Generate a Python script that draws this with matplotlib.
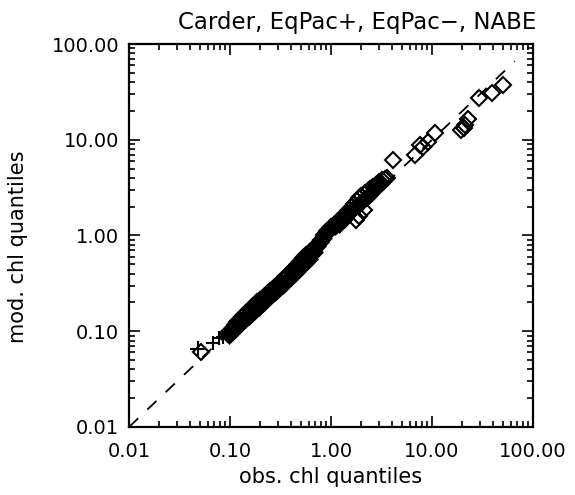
"""Q-Q plot of modelled vs observed chlorophyll quantiles."""

import matplotlib
matplotlib.use('Agg')
import matplotlib.pyplot as plt
from matplotlib.ticker import FixedLocator, LogLocator, NullFormatter, FuncFormatter

TITLE = 'Carder, EqPac+, EqPac\u2212, NABE'

# crosses (low-chl quantiles)
plus_obs = [0.048, 0.068, 0.077, 0.086, 0.092, 0.097, 0.102, 0.108, 0.114, 0.12,
            0.127, 0.134, 0.142, 0.15, 0.158, 0.167, 0.176, 0.186, 0.197, 0.21,
            0.224, 0.24, 0.256, 0.272, 0.29, 0.31, 0.33, 0.355, 0.38, 0.41,
            0.44, 0.47, 0.5, 0.54, 0.58, 0.63, 0.68, 0.74, 0.8, 0.87,
            0.95, 1.02, 1.1, 1.18, 1.26]
plus_mod = [0.066, 0.075, 0.084, 0.088, 0.094, 0.1, 0.108, 0.115, 0.123, 0.13,
            0.138, 0.146, 0.155, 0.166, 0.176, 0.186, 0.196, 0.207, 0.219, 0.233,
            0.247, 0.262, 0.275, 0.29, 0.31, 0.33, 0.352, 0.378, 0.41, 0.445,
            0.48, 0.52, 0.56, 0.61, 0.66, 0.71, 0.77, 0.84, 0.9, 0.98,
            1.12, 1.25, 1.36, 1.45, 1.52]

# diamonds (full range)
diam_obs = [0.052, 0.095, 0.1, 0.106, 0.112, 0.118, 0.125, 0.132, 0.14, 0.148,
            0.157, 0.166, 0.176, 0.187, 0.198, 0.21, 0.223, 0.237, 0.25, 0.265,
            0.28, 0.3, 0.32, 0.34, 0.36, 0.385, 0.41, 0.44, 0.47, 0.5,
            0.53, 0.57, 0.61, 0.65, 0.7, 0.75, 0.8, 0.86, 0.92, 0.99,
            1.06, 1.14, 1.22, 1.3, 1.4, 1.5, 1.6, 1.7, 1.8, 1.9,
            2.0, 2.15, 2.3, 2.45, 2.6, 2.8, 3.0, 3.2, 3.4, 3.6,
            1.75, 1.9, 2.1,
            4.1, 6.8, 7.6, 8.2, 9.2, 10.7, 19.5, 20.5, 21.4, 22.9,
            29.0, 39.0, 51.0]
diam_mod = [0.06, 0.095, 0.1, 0.108, 0.116, 0.124, 0.132, 0.141, 0.15, 0.158,
            0.168, 0.178, 0.19, 0.2, 0.21, 0.222, 0.235, 0.25, 0.262, 0.278,
            0.292, 0.31, 0.33, 0.35, 0.375, 0.4, 0.43, 0.465, 0.5, 0.54,
            0.58, 0.62, 0.66, 0.7, 0.76, 0.82, 0.9, 1.02, 1.12, 1.22,
            1.3, 1.38, 1.46, 1.56, 1.7, 1.85, 2.0, 2.15, 2.3, 2.45,
            2.6, 2.75, 2.9, 3.05, 3.2, 3.4, 3.6, 3.8, 3.9, 4.0,
            1.45, 1.6, 1.85,
            6.2, 6.9, 8.8, 8.3, 9.5, 11.7, 12.6, 13.4, 14.3, 16.6,
            27.0, 30.5, 37.0]

# second diamond set, filling the dense band
band_obs = [0.098, 0.104, 0.11, 0.116, 0.123, 0.13, 0.137, 0.145, 0.153, 0.162,
            0.171, 0.181, 0.192, 0.204, 0.216, 0.23, 0.244, 0.26, 0.276, 0.294,
            0.312, 0.332, 0.354, 0.378, 0.4, 0.43, 0.46, 0.49, 0.52, 0.56,
            0.6, 0.64, 0.68, 0.73, 0.78, 0.84, 0.9, 0.96, 1.03, 1.1,
            1.2, 1.35, 1.55, 1.7, 1.85, 2.05, 2.25, 2.5, 2.75, 3.1]
band_mod = [0.092, 0.098, 0.103, 0.11, 0.117, 0.122, 0.13, 0.137, 0.145, 0.152,
            0.162, 0.171, 0.18, 0.192, 0.202, 0.215, 0.228, 0.242, 0.258, 0.272,
            0.29, 0.306, 0.33, 0.352, 0.37, 0.4, 0.43, 0.46, 0.49, 0.53,
            0.57, 0.62, 0.68, 0.78, 0.86, 0.95, 1.05, 1.15, 1.22, 1.27,
            1.33, 1.5, 1.75, 1.95, 2.1, 2.3, 2.5, 2.8, 3.1, 3.5]

major_ticks = [0.01, 0.1, 1.0, 10.0, 100.0]
one_to_one = [0.01, 66.0]


def style_axis(ax):
    ax.set_xscale('log')
    ax.set_yscale('log')
    ax.set_xlim(0.01, 100)
    ax.set_ylim(0.01, 100)
    fmt = FuncFormatter(lambda v, pos: f'{v:.2f}')
    for axis in (ax.xaxis, ax.yaxis):
        axis.set_major_locator(FixedLocator(major_ticks))
        axis.set_minor_locator(LogLocator(base=10, subs=range(2, 10)))
        axis.set_major_formatter(fmt)
        axis.set_minor_formatter(NullFormatter())
    ax.tick_params(which='both', direction='in', top=True, right=True, width=1.2)
    ax.tick_params(which='major', length=8)
    ax.tick_params(which='minor', length=4)
    ax.tick_params(axis='x', which='major', pad=11, labelsize=14)
    ax.tick_params(axis='y', which='major', pad=7, labelsize=14)
    for spine in ax.spines.values():
        spine.set_linewidth(1.6)


def main():
    fig = plt.figure(figsize=(5.75, 4.95), dpi=100)
    ax = fig.add_axes([0.2243, 0.1374, 0.7027, 0.7737])

    ax.plot(one_to_one, one_to_one, color='black', lw=1.3, ls=(0, (7, 7)))
    ax.plot(diam_obs, diam_mod, ls='none', marker='D', ms=8, mfc='none',
            mec='black', mew=1.5)
    ax.plot(band_obs, band_mod, ls='none', marker='D', ms=7, mfc='black',
            mec='black', mew=2.5)
    ax.plot(plus_obs, plus_mod, ls='none', marker='+', ms=10, mec='black', mew=1.5)
    ax.plot(plus_obs[:1], plus_mod[:1], ls='none', marker='+', ms=12,
            mec='black', mew=1.4)

    style_axis(ax)
    ax.set_xlabel('obs. chl quantiles', fontsize=15, labelpad=4)
    ax.set_ylabel('mod. chl quantiles', fontsize=15)
    ax.yaxis.set_label_coords(-0.25, 0.47)
    fig.text(0.622, 0.955, TITLE, fontsize=16.5, ha='center', va='center')

    fig.savefig('out.png', dpi=100)
    plt.close(fig)


if __name__ == '__main__':
    main()
